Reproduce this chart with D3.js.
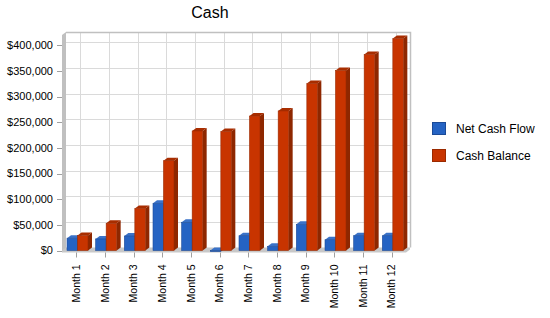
<!DOCTYPE html>
<html>
<head>
  <meta charset="utf-8">
  <script src="https://cdn.jsdelivr.net/npm/d3@7"></script>
  <style type="text/css">
    body {
      margin: 0;
      background: #fff;
      font-family: "Liberation Sans", Arial, sans-serif;
    }
    .grid line {
      stroke: #dadada;
      stroke-width: 1;
    }
    .tick-mark {
      stroke: #a0a0a0;
    }
  </style>
</head>
<body>
  <script type="text/javascript">

  // chart data
  const months = ['Month 1', 'Month 2', 'Month 3', 'Month 4', 'Month 5', 'Month 6',
                  'Month 7', 'Month 8', 'Month 9', 'Month 10', 'Month 11', 'Month 12'];
  const seriesNames = ['Net Cash Flow', 'Cash Balance'];
  const netCashFlow = [24000, 22500, 28200, 92000, 55000, -2000, 28800, 8200, 51000, 21000, 28800, 28800];
  const cashBalance = [29000, 53000, 82000, 175000, 233000, 232000, 262000, 272000, 325500, 350700, 382000, 413000];
  const yTicks = [0, 50000, 100000, 150000, 200000, 250000, 300000, 350000, 400000];

  const colors = {
    'Net Cash Flow': {front: '#2563c3', side: '#1a4690', top: '#3a72c8', edge: '#1b4a97'},
    'Cash Balance': {front: '#c83400', side: '#8e2700', top: '#a82d00', edge: '#9a2a00'}
  };

  const W = 550, H = 318;
  // plot frame (front plane) and 3d depth offset
  const plot = {left: 62, right: 406, top: 35, bottom: 250.5};
  const dx = 4, dy = -3;

  const svg = d3.select('body').append('svg')
    .attr('width', W)
    .attr('height', H);

  const x = d3.scaleBand().domain(months).range([plot.left, plot.right]);
  const xs = d3.scaleBand().domain(seriesNames).range([5, 26]);
  const y = d3.scaleLinear().domain([0, 420000]).range([plot.bottom, plot.top]);

  // title
  svg.append('text')
    .attr('x', 210)
    .attr('y', 18)
    .attr('text-anchor', 'middle')
    .style('font-size', '16px')
    .text('Cash');

  // back wall
  svg.append('rect')
    .attr('x', plot.left + dx)
    .attr('y', plot.top + dy)
    .attr('width', plot.right - plot.left)
    .attr('height', plot.bottom - plot.top)
    .attr('fill', '#fff');

  // grid on the back wall
  const grid = svg.append('g').attr('class', 'grid');
  grid.selectAll('line.h').data(yTicks.slice(1)).join('line')
    .attr('class', 'h')
    .attr('x1', plot.left + dx).attr('x2', plot.right + dx)
    .attr('y1', d => Math.round(y(d) + dy) + 0.5)
    .attr('y2', d => Math.round(y(d) + dy) + 0.5);
  grid.selectAll('line.v').data(months).join('line')
    .attr('class', 'v')
    .attr('x1', d => Math.round(x(d) + x.bandwidth() / 2 + dx) + 0.5)
    .attr('x2', d => Math.round(x(d) + x.bandwidth() / 2 + dx) + 0.5)
    .attr('y1', plot.top + dy).attr('y2', plot.bottom + dy);

  // wall outline (top and right)
  svg.append('path')
    .attr('d', `M${plot.left + dx},${plot.top + dy + 0.5}H${plot.right + dx + 0.5}V${plot.bottom + dy}`)
    .attr('fill', 'none')
    .attr('stroke', '#c0c0c0')
    .attr('stroke-width', 1.5);

  // left wall
  svg.append('path')
    .attr('d', `M${plot.left},${plot.top}L${plot.left + dx},${plot.top + dy}L${plot.left + dx},${plot.bottom + dy}L${plot.left},${plot.bottom + 2}Z`)
    .attr('fill', '#c0c0c0');

  // floor
  svg.append('path')
    .attr('d', `M${plot.left},${plot.bottom}L${plot.left + dx},${plot.bottom + dy}L${plot.right + dx},${plot.bottom + dy}` +
               `L${plot.right + dx},${plot.bottom + dy + 2}L${plot.right},${plot.bottom + 2}L${plot.left},${plot.bottom + 2}Z`)
    .attr('fill', '#c8c8c8');

  // bars
  const rows = months.map((m, i) => ({month: m, values: [
    {name: seriesNames[0], value: netCashFlow[i]},
    {name: seriesNames[1], value: cashBalance[i]}
  ]}));

  const bw = xs.bandwidth();
  const groups = svg.append('g').selectAll('g').data(rows).join('g')
    .attr('transform', d => `translate(${x(d.month)},0)`);

  const bars = groups.selectAll('g').data(d => d.values).join('g');

  function barTop(d) { return Math.min(y(d.value), y(0)); }
  function barBottom(d) { return Math.max(y(d.value), y(0)); }

  // side face
  bars.append('path')
    .attr('d', d => {
      const x1 = xs(d.name) + bw, t = barTop(d), b = barBottom(d);
      return `M${x1},${t}L${x1 + dx},${t + dy}L${x1 + dx},${b + dy}L${x1},${b}Z`;
    })
    .attr('fill', d => colors[d.name].side);

  // top face
  bars.append('path')
    .attr('d', d => {
      const x0 = xs(d.name), t = barTop(d);
      return `M${x0},${t}L${x0 + dx},${t + dy}L${x0 + bw + dx},${t + dy}L${x0 + bw},${t}Z`;
    })
    .attr('fill', d => colors[d.name].top);

  // front face
  bars.append('rect')
    .attr('x', d => xs(d.name))
    .attr('y', d => barTop(d))
    .attr('width', bw)
    .attr('height', d => Math.max(1, barBottom(d) - barTop(d)))
    .attr('fill', d => colors[d.name].front)
    .attr('stroke', d => colors[d.name].edge)
    .attr('stroke-width', 0.6);

  // y axis
  const yAxis = svg.append('g');
  yAxis.selectAll('line').data(yTicks).join('line')
    .attr('class', 'tick-mark')
    .attr('x1', plot.left - 5).attr('x2', plot.left)
    .attr('y1', d => Math.round(y(d)) + 0.5).attr('y2', d => Math.round(y(d)) + 0.5);
  yAxis.selectAll('text').data(yTicks).join('text')
    .attr('x', plot.left - 9)
    .attr('y', d => y(d))
    .attr('dy', '0.35em')
    .attr('text-anchor', 'end')
    .style('font-size', '11px')
    .text(d => d3.format('$,')(d));

  // x axis
  const xAxis = svg.append('g');
  xAxis.selectAll('line').data(months).join('line')
    .attr('class', 'tick-mark')
    .attr('x1', d => Math.round(x(d) + x.bandwidth() / 2) + 0.5)
    .attr('x2', d => Math.round(x(d) + x.bandwidth() / 2) + 0.5)
    .attr('y1', plot.bottom + 2).attr('y2', plot.bottom + 7);
  xAxis.selectAll('text').data(months).join('text')
    .attr('transform', d => `translate(${x(d) + x.bandwidth() / 2},${plot.bottom + 14}) rotate(-90)`)
    .attr('dy', '0.35em')
    .attr('text-anchor', 'end')
    .style('font-size', '10.5px')
    .text(d => d);

  // legend
  const legend = svg.append('g').attr('transform', 'translate(432,122)');
  const item = legend.selectAll('g').data(seriesNames).join('g')
    .attr('transform', (d, i) => `translate(0,${i * 27})`);
  item.append('rect')
    .attr('x', 0.5).attr('y', 0.5)
    .attr('width', 13).attr('height', 12)
    .attr('fill', d => colors[d].front)
    .attr('stroke', d => colors[d].edge);
  item.append('text')
    .attr('x', 24)
    .attr('y', 6.5)
    .attr('dy', '0.35em')
    .style('font-size', '12px')
    .text(d => d);

  </script>
</body>
</html>
